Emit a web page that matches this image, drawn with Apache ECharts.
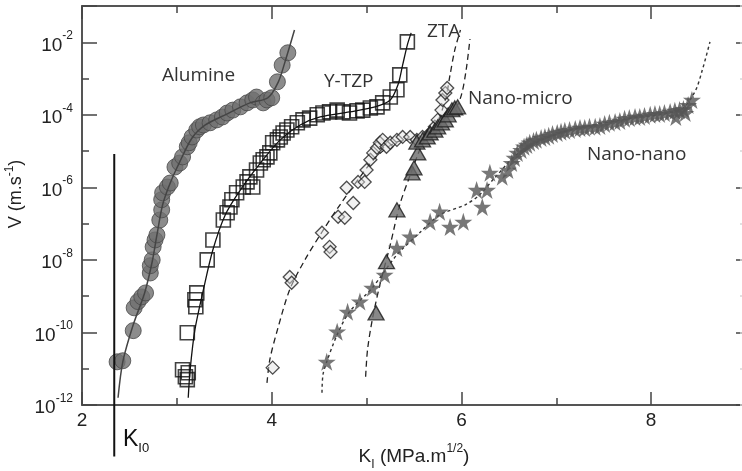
<!DOCTYPE html>
<html>
<head>
<meta charset="utf-8">
<script src="https://cdn.jsdelivr.net/npm/echarts@6/dist/echarts.min.js"></script>
<style>
html, body { margin: 0; padding: 0; background: #fff; }
#chart { width: 742px; height: 471px; }
</style>
</head>
<body>
<div id="chart"></div>
<script>
// Slow crack growth: crack velocity V (stored as log10 of m/s) against K_I (MPa.m^1/2)

// Tick labels
const xTickLabels = [2, 4, 6, 8];
const yTickExponents = [-12, -10, -8, -6, -4, -2];

// Threshold K_I0 and the vertical extent of its marker line (log10 V)
const kI0 = 2.34;
const kI0Span = [-5.08, -13.42];

// Alumina
const aluminePoints = [
  [2.37, -10.81], [2.43, -10.78], [2.54, -9.95], [2.55, -9.32], [2.59, -9.15], [2.63, -9.02],
  [2.67, -8.91], [2.72, -8.36], [2.72, -8.16], [2.74, -8.00], [2.75, -7.64], [2.77, -7.45],
  [2.79, -7.31], [2.82, -6.90], [2.84, -6.62], [2.84, -6.34], [2.85, -6.15], [2.90, -5.99],
  [2.93, -5.88], [2.98, -5.44], [3.03, -5.33], [3.06, -5.16], [3.11, -4.88], [3.13, -4.77],
  [3.16, -4.61], [3.21, -4.42], [3.24, -4.33], [3.28, -4.28], [3.35, -4.22], [3.42, -4.14],
  [3.48, -4.06], [3.53, -3.95], [3.59, -3.87], [3.67, -3.78], [3.74, -3.67], [3.80, -3.59],
  [3.84, -3.51], [3.91, -3.67], [3.95, -3.59], [4.00, -3.53], [4.06, -3.09], [4.11, -2.63],
  [4.17, -2.29]
];
const alumineFit = [
  [2.38, -11.80], [2.43, -10.81], [2.54, -9.79], [2.66, -8.91], [2.74, -8.05], [2.79, -7.31],
  [2.85, -6.48], [2.93, -5.88], [3.03, -5.30], [3.16, -4.64], [3.30, -4.28], [3.51, -4.00],
  [3.77, -3.67], [3.96, -3.53], [4.07, -3.09], [4.14, -2.54], [4.24, -1.66]
];

// Y-TZP
const ytzpPoints = [
  [3.09, -11.22], [3.12, -11.11], [3.11, -11.30], [3.06, -11.03], [3.11, -10.01], [3.19, -9.10],
  [3.21, -8.91], [3.20, -9.29], [3.32, -8.00], [3.38, -7.45], [3.49, -6.90], [3.53, -6.70],
  [3.56, -6.54], [3.58, -6.34], [3.63, -6.15], [3.70, -5.99], [3.74, -5.85], [3.77, -5.71],
  [3.80, -5.99], [3.84, -5.52], [3.88, -5.33], [3.91, -5.24], [3.95, -5.16], [3.98, -5.05],
  [4.01, -4.77], [4.06, -4.69], [4.09, -4.61], [4.12, -4.50], [4.16, -4.42], [4.21, -4.33],
  [4.27, -4.22], [4.33, -4.14], [4.40, -4.09], [4.48, -4.00], [4.54, -3.95], [4.61, -3.92],
  [4.69, -3.87], [4.75, -3.92], [4.82, -3.95], [4.90, -3.89], [4.96, -3.87], [5.04, -3.81],
  [5.11, -3.78], [5.17, -3.67], [5.25, -3.51], [5.32, -3.31], [5.35, -2.90], [5.43, -1.99]
];
const ytzpFit = [
  [3.12, -11.80], [3.14, -11.03], [3.19, -9.93], [3.28, -8.82], [3.38, -7.72], [3.51, -6.76],
  [3.67, -6.07], [3.88, -5.33], [4.09, -4.69], [4.30, -4.28], [4.51, -4.06], [4.82, -3.92],
  [5.09, -3.78], [5.25, -3.59], [5.33, -3.18], [5.38, -2.63], [5.43, -2.07], [5.47, -1.74]
];

// ZTA
const ztaPoints = [
  [4.01, -10.97], [4.19, -8.47], [4.21, -8.63], [4.53, -7.25], [4.61, -7.64], [4.62, -7.78],
  [4.70, -6.81], [4.77, -6.84], [4.86, -6.43], [4.79, -6.01], [4.91, -5.85], [4.98, -5.85],
  [5.00, -5.52], [5.04, -5.24], [5.07, -5.05], [5.11, -4.91], [5.14, -4.77], [5.17, -4.69],
  [5.21, -4.88], [5.25, -4.77], [5.32, -4.69], [5.38, -4.61], [5.46, -4.61], [5.53, -4.69],
  [5.59, -4.61], [5.67, -4.50], [5.72, -4.33], [5.75, -4.14], [5.79, -3.87], [5.80, -3.59],
  [5.83, -3.40], [5.85, -3.26]
];
const ztaFit = [
  [3.95, -11.39], [3.98, -10.75], [4.06, -9.93], [4.19, -8.82], [4.35, -8.00], [4.53, -7.23],
  [4.72, -6.48], [4.91, -5.79], [5.09, -5.19], [5.30, -4.77], [5.56, -4.61], [5.72, -4.31],
  [5.83, -3.59], [5.88, -2.90], [5.93, -2.21], [5.99, -1.66]
];

// Nano-micro composite
const nanoMicroPoints = [
  [5.10, -9.46], [5.21, -8.05], [5.32, -6.62], [5.48, -5.60], [5.50, -5.46], [5.54, -5.05],
  [5.53, -4.75], [5.59, -4.69], [5.64, -4.61], [5.67, -4.50], [5.72, -4.42], [5.75, -4.33],
  [5.79, -4.22], [5.83, -4.14], [5.86, -4.00], [5.90, -3.86], [5.93, -3.81], [5.96, -3.78]
];
const nanoMicroFit = [
  [4.99, -11.22], [5.01, -10.48], [5.06, -9.65], [5.14, -8.69], [5.25, -7.58], [5.35, -6.48],
  [5.46, -5.66], [5.54, -5.10], [5.61, -4.69], [5.77, -4.22], [5.93, -3.86], [6.00, -3.45],
  [6.05, -2.76], [6.09, -1.91]
];

// Nano-nano composite
const nanoNanoPoints = [
  [4.58, -10.81], [4.69, -9.98], [4.80, -9.43], [4.93, -9.15], [5.06, -8.77], [5.19, -8.41],
  [5.32, -7.67], [5.46, -7.36], [5.67, -6.95], [5.77, -6.67], [5.88, -7.09], [6.02, -6.95],
  [6.16, -6.07], [6.22, -6.54], [6.27, -6.07], [6.30, -5.60], [6.43, -5.71], [6.49, -5.52],
  [6.53, -5.33], [6.56, -5.19], [6.59, -5.05], [6.63, -4.97], [6.66, -4.88], [6.69, -4.83],
  [6.72, -4.77], [6.76, -4.72], [6.79, -4.69], [6.84, -4.64], [6.88, -4.61], [6.92, -4.58],
  [6.96, -4.53], [7.01, -4.50], [7.05, -4.47], [7.09, -4.44], [7.14, -4.42], [7.20, -4.39],
  [7.25, -4.36], [7.30, -4.36], [7.35, -4.33], [7.41, -4.33], [7.46, -4.31], [7.51, -4.25],
  [7.56, -4.22], [7.62, -4.20], [7.67, -4.17], [7.72, -4.11], [7.77, -4.09], [7.83, -4.06],
  [7.88, -4.06], [7.93, -4.03], [7.99, -4.00], [8.04, -3.98], [8.09, -3.98], [8.14, -3.95],
  [8.20, -3.92], [8.25, -3.89], [8.26, -4.06], [8.30, -3.87], [8.34, -3.84], [8.36, -3.95],
  [8.39, -3.73], [8.43, -3.59]
];
const nanoNanoFit = [
  [4.53, -11.66], [4.54, -11.17], [4.58, -10.81], [4.69, -10.06], [4.82, -9.43], [5.06, -8.77],
  [5.32, -7.86], [5.56, -7.25], [5.77, -6.76], [6.04, -6.48], [6.19, -6.21], [6.35, -5.74],
  [6.62, -5.02], [7.04, -4.50], [7.67, -4.14], [8.30, -3.87], [8.46, -3.37], [8.54, -2.76],
  [8.62, -1.99]
];

const STAR = 'path://M50 0 L61.23 34.55 L97.55 34.55 L68.17 55.9 L79.39 90.45 L50 69.1 L20.61 90.45 L31.83 55.9 L2.45 34.55 L38.77 34.55 Z';
const SANS = '"Liberation Sans", Arial, sans-serif';
const LABEL_FONT = '"Open Sans", "Noto Sans", sans-serif';
const AXIS_COLOR = '#555';

const chart = echarts.init(document.getElementById('chart'), null, { renderer: 'canvas' });

function frameAxis(extra) {
  return Object.assign({
    type: 'value',
    splitLine: { show: false },
    axisLabel: { show: false },
    axisLine: { show: false, onZero: false, lineStyle: { color: AXIS_COLOR, width: 2 } },
    axisTick: { show: true, inside: true, length: 7, lineStyle: { color: '#444', width: 1.5 } }
  }, extra);
}

const xRange = { min: 2, max: 9 };
const yRange = { min: -12, max: -1 };

function scatter(name, data, symbol, size, style, z) {
  return { name, type: 'scatter', data, symbol, symbolSize: size, itemStyle: style, z, silent: true };
}
function curve(name, data, color, width, dash, z) {
  return {
    name, type: 'line', data, smooth: 0.3, showSymbol: false, symbol: 'none', z, silent: true,
    lineStyle: { color, width, type: dash }
  };
}

const option = {
  animation: false,
  backgroundColor: '#fff',
  grid: { left: 82, top: 6, width: 664, height: 399, containLabel: false, outerBoundsMode: 'none' },
  xAxis: [
    frameAxis(Object.assign({}, xRange, {
      position: 'bottom', interval: 2,
      axisLine: { show: true, onZero: false, lineStyle: { color: AXIS_COLOR, width: 2 } },
      axisTick: { show: true, inside: true, length: 13, lineStyle: { color: '#444', width: 1.5 } },
      axisLabel: {
        show: true, margin: 6, color: '#222', fontSize: 19, fontFamily: SANS,
        formatter: v => (xTickLabels.indexOf(v) >= 0 ? String(v) : '')
      },
      name: '{b|K}{sub|I}{b| (MPa.m}{sup|1/2}{b|)}',
      nameLocation: 'middle', nameGap: 38,
      nameTextStyle: {
        rich: {
          b: { fontSize: 19, fontFamily: SANS, color: '#222', lineHeight: 28, verticalAlign: 'middle' },
          sub: { fontSize: 12, fontFamily: SANS, color: '#222', lineHeight: 28, verticalAlign: 'bottom' },
          sup: { fontSize: 12, fontFamily: SANS, color: '#222', lineHeight: 28, verticalAlign: 'top' }
        }
      }
    })),
    frameAxis(Object.assign({}, xRange, { position: 'bottom', interval: 1 })),
    frameAxis(Object.assign({}, xRange, {
      position: 'top', interval: 2,
      axisLine: { show: true, onZero: false, lineStyle: { color: AXIS_COLOR, width: 2 } },
      axisTick: { show: true, inside: true, length: 13, lineStyle: { color: '#444', width: 1.5 } }
    })),
    frameAxis(Object.assign({}, xRange, { position: 'top', interval: 1 }))
  ],
  yAxis: [
    frameAxis(Object.assign({}, yRange, {
      position: 'left', interval: 2,
      axisLine: { show: true, onZero: false, lineStyle: { color: AXIS_COLOR, width: 2 } },
      axisTick: { show: true, inside: true, length: 15, lineStyle: { color: '#444', width: 1.5 } },
      axisLabel: {
        show: true, margin: 9,
        formatter: v => (yTickExponents.indexOf(v) >= 0 ? '{b|10}{sup|' + v + '}' : ''),
        rich: {
          b: { fontSize: 19, fontFamily: SANS, color: '#222', lineHeight: 25, verticalAlign: 'bottom' },
          sup: { fontSize: 12, fontFamily: SANS, color: '#222', lineHeight: 25, verticalAlign: 'top' }
        }
      }
    })),
    frameAxis(Object.assign({}, yRange, { position: 'left', interval: 1 })),
    frameAxis(Object.assign({}, yRange, {
      position: 'right', interval: 2,
      axisLine: { show: true, onZero: false, lineStyle: { color: AXIS_COLOR, width: 2 } },
      axisTick: { show: true, inside: true, length: 10, lineStyle: { color: '#444', width: 1.5 } }
    })),
    frameAxis(Object.assign({}, yRange, {
      position: 'right', interval: 1,
      axisTick: { show: true, inside: true, length: 6, lineStyle: { color: '#d8d8d8', width: 1.5 } }
    }))
  ],
  series: [
    scatter('Alumine', aluminePoints, 'circle', 16,
      { color: '#6f6f6f', borderColor: '#4a4a4a', borderWidth: 1 }, 3),
    curve('Alumine fit', alumineFit, '#444', 1.5, 'solid', 4),

    curve('Y-TZP fit', ytzpFit, '#111', 1.3, 'solid', 2),
    scatter('Y-TZP', ytzpPoints, 'rect', 14,
      { color: 'rgba(255,255,255,0)', borderColor: '#111', borderWidth: 1.6 }, 3),

    curve('ZTA fit', ztaFit, '#222', 1.3, [6, 4], 2),
    scatter('ZTA', ztaPoints, 'diamond', 13,
      { color: 'rgba(225,225,225,0.6)', borderColor: '#222', borderWidth: 1.3 }, 3),

    curve('Nano-micro fit', nanoMicroFit, '#222', 1.3, [6, 4], 2),
    scatter('Nano-micro', nanoMicroPoints, 'triangle', [16, 14],
      { color: '#6a6a6a', borderColor: '#1a1a1a', borderWidth: 1.3 }, 3),

    curve('Nano-nano fit', nanoNanoFit, '#333', 1.4, [3, 3], 2),
    scatter('Nano-nano', nanoNanoPoints, STAR, 18,
      { color: '#555555' }, 3),

    {
      name: 'KI0', type: 'line', clip: false, silent: true, showSymbol: false, symbol: 'none', z: 5,
      data: [[kI0, kI0Span[0]], [kI0, kI0Span[1]]],
      lineStyle: { color: '#111', width: 2 }
    }
  ],
  graphic: [
    { type: 'text', x: 16, y: 194, rotation: Math.PI / 2, silent: true,
      style: {
        text: '{b|V (m.s}{sup|-1}{b|)}', align: 'center', verticalAlign: 'middle',
        rich: {
          b: { fontSize: 18, fontFamily: SANS, fill: '#222', lineHeight: 24, verticalAlign: 'middle' },
          sup: { fontSize: 12, fontFamily: SANS, fill: '#222', lineHeight: 24, verticalAlign: 'top' }
        }
      } },
    { type: 'text', x: 162, y: 76, silent: true,
      style: { text: 'Alumine', font: '19px ' + LABEL_FONT, fill: '#333', verticalAlign: 'middle' } },
    { type: 'text', x: 324, y: 82, silent: true,
      style: { text: 'Y-TZP', font: '19px ' + LABEL_FONT, fill: '#333', verticalAlign: 'middle' } },
    { type: 'text', x: 427, y: 32, silent: true,
      style: { text: 'ZTA', font: '19px ' + LABEL_FONT, fill: '#333', verticalAlign: 'middle' } },
    { type: 'text', x: 468, y: 99, silent: true,
      style: { text: 'Nano-micro', font: '19px ' + LABEL_FONT, fill: '#333', verticalAlign: 'middle' } },
    { type: 'text', x: 587, y: 155, silent: true,
      style: { text: 'Nano-nano', font: '19px ' + LABEL_FONT, fill: '#333', verticalAlign: 'middle' } },
    { type: 'text', x: 123, y: 440, silent: true,
      style: {
        text: '{k|K}{s|I0}', verticalAlign: 'middle',
        rich: {
          k: { fontSize: 23, fontFamily: SANS, fill: '#111', lineHeight: 30, verticalAlign: 'middle' },
          s: { fontSize: 13, fontFamily: SANS, fill: '#111', lineHeight: 30, verticalAlign: 'bottom' }
        }
      } }
  ]
};

chart.setOption(option);
</script>
</body>
</html>
